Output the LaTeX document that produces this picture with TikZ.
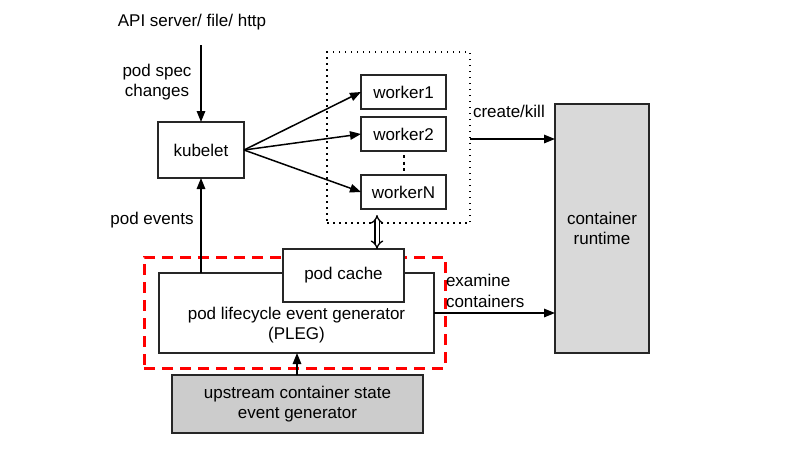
\documentclass[tikz,border=0pt]{standalone}
\usepackage{fontspec}
\setmainfont{Liberation Sans}
\usetikzlibrary{arrows.meta}
\definecolor{rtgray}{HTML}{D9D9D9}
\definecolor{upgray}{HTML}{CCCCCC}
\definecolor{plegred}{HTML}{FF0000}
\begin{document}
\begin{tikzpicture}[x=1pt,y=-1pt,
  every node/.style={font=\fontsize{17}{20.5}\selectfont, inner sep=0pt, outer sep=0pt},
  box/.style={draw=black!85, line width=1.8pt, fill=white, align=center},
  lbl/.style={align=center},
  arr/.style={line width=1.5pt, -{Triangle[length=11pt,width=8.5pt]}}]
\useasboundingbox (0,0) rectangle (812,461);
% text labels
\node[lbl] (api) at (192,22) {API server/ file/ http};
\coordinate (apiend) at (201,45);
\node[lbl] (spec) at (157,82) {pod spec\\changes};
\node[lbl] (events) at (152,220) {pod events};
% kubelet
\node[box, minimum width=86pt, minimum height=56pt] (kubelet) at (201,150) {kubelet};
% dotted worker group
\node[draw, line width=1.5pt, dash pattern=on 1.5pt off 4.5pt, minimum width=143pt, minimum height=171pt] (pool) at (398.5,137.5) {};
\node[box, minimum width=85pt, minimum height=34pt] (w1) at (403.5,92) {worker1};
\node[box, minimum width=85pt, minimum height=34pt] (w2) at (403.5,134) {worker2};
\node[box, minimum width=85pt, minimum height=34pt] (wn) at (403.5,192) {workerN};
\coordinate (dotsA) at (403.5,155);
\coordinate (dotsB) at (403.5,173);
\draw[line width=2pt, dash pattern=on 3pt off 3.5pt] (dotsA) -- (dotsB);
% container runtime
\node[box, fill=rtgray, minimum width=94pt, minimum height=249pt] (rt) at (602,228.5) {container\\runtime};
% red dashed PLEG boundary
\node[draw=plegred, line width=3pt, dash pattern=on 11pt off 7pt, minimum width=301pt, minimum height=111pt] (redbox) at (294.5,312.5) {};
% PLEG
\node[box, minimum width=275pt, minimum height=80pt] (pleg) at (296.5,313) {};
\node[lbl] (plegtxt) at (296.5,325) {pod lifecycle event generator\\(PLEG)};
\node[box, minimum width=121pt, minimum height=53pt] (cache) at (343.5,275.5) {pod cache};
% upstream
\node[box, fill=upgray, minimum width=251pt, minimum height=58pt] (up) at (297.5,404) {upstream container state\\event generator};
% labels right
\node[lbl, anchor=west] (ck) at (473,111) {create/kill};
\node[lbl, anchor=west, align=left] (ex) at (446,291) {examine\\containers};
% connectors
\draw[arr] (apiend) -- (kubelet.north);
\draw[arr] (kubelet.east) -- (w1.west);
\draw[arr] (kubelet.east) -- (w2.west);
\draw[arr] (kubelet.east) -- (wn.west);
\draw[arr] (pool.east |- 0,139) -- (rt.west |- 0,139);
\draw[arr] (pleg.east) -- (rt.west |- pleg.east);
\draw[arr] (pleg.north -| kubelet.south) -- (kubelet.south);
\draw[arr] (up.north -| 297,0) -- (pleg.south -| 297,0);
\coordinate (dtop) at (377,215);
\draw[line width=1.3pt, double=white, double distance=3pt, {Implies[]}-{Implies[]}] (dtop) -- (cache.north -| dtop);
\end{tikzpicture}
\end{document}
